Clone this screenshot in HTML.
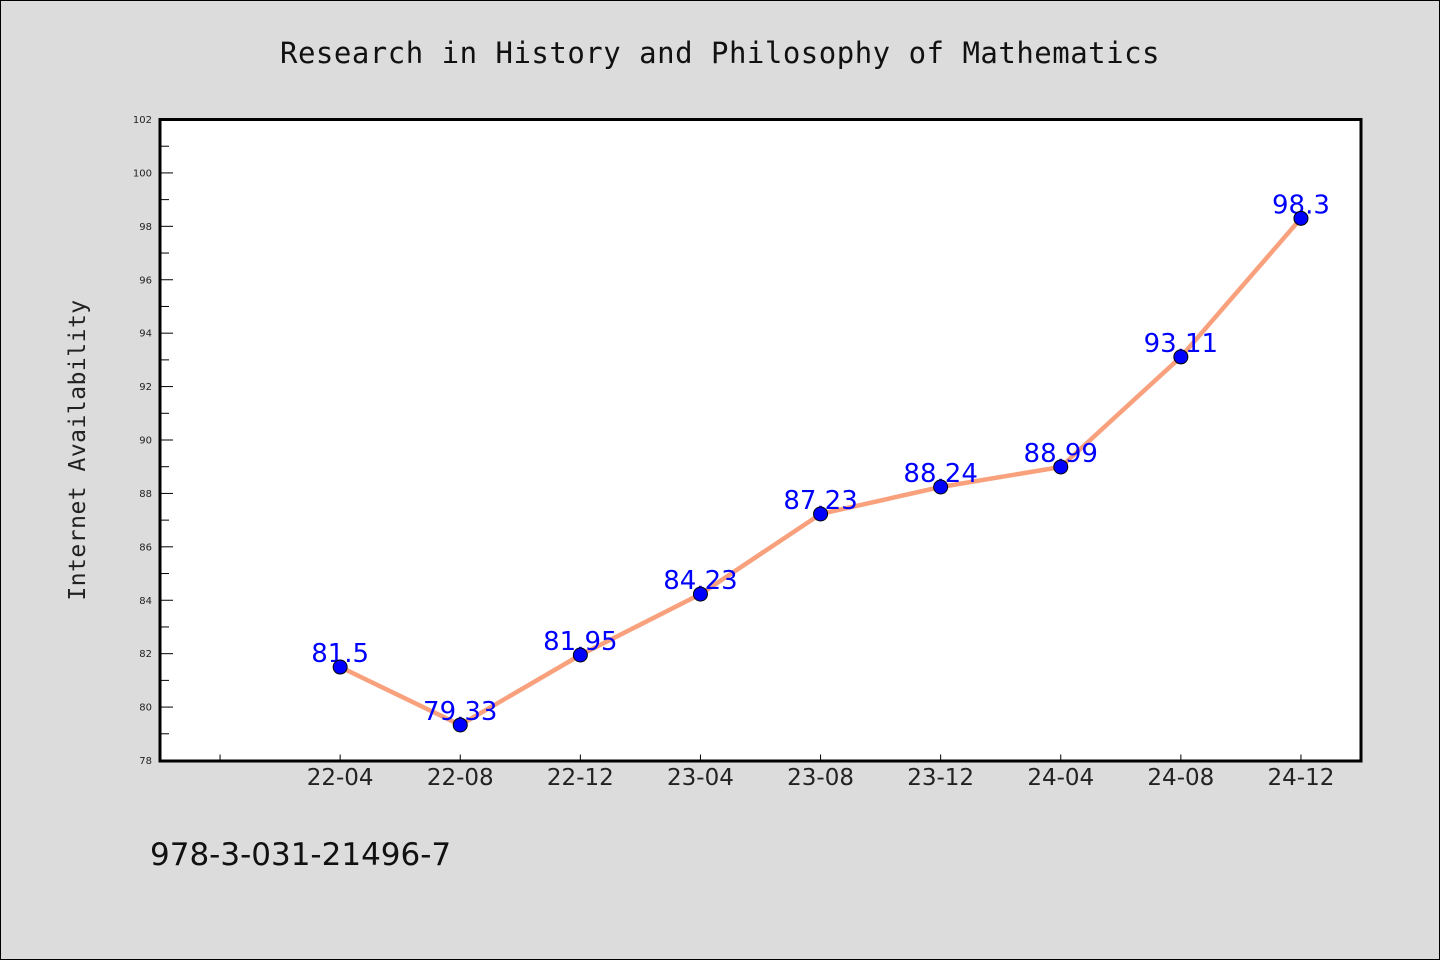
<!DOCTYPE html>
<html><head><meta charset="utf-8"><style>
html,body{margin:0;padding:0;background:#dcdcdc;}
svg{display:block;}
</style></head><body>
<svg width="1440" height="960" xmlns="http://www.w3.org/2000/svg">
<rect x="0.5" y="0.5" width="1439" height="959" fill="#dcdcdc" stroke="#000" stroke-width="1"/>
<text x="720" y="63" text-anchor="middle" font-family="DejaVu Sans Mono, Liberation Mono, monospace" font-size="29" letter-spacing="0.5" fill="#111">Research in History and Philosophy of Mathematics</text>
<text transform="translate(85,450) rotate(-90)" text-anchor="middle" font-family="DejaVu Sans Mono, Liberation Mono, monospace" font-size="23" letter-spacing="0.5" fill="#222">Internet Availability</text>
<text x="150" y="865" font-family="DejaVu Sans, Liberation Sans, sans-serif" font-size="31" fill="#111">978-3-031-21496-7</text>
<rect x="160" y="119.5" width="1201" height="641" fill="#fff"/>
<g id="axes"></g>
<g id="marks"></g>
<path d="M160,762 L160,119.5 L1361,119.5 L1361,761 L158.5,761" fill="none" stroke="#000" stroke-width="3"/>
</svg>
<script>
const categories = ["22-04","22-08","22-12","23-04","23-08","23-12","24-04","24-08","24-12"];
const values = [81.5,79.33,81.95,84.23,87.23,88.24,88.99,93.11,98.3];
const labels = ["81.5","79.33","81.95","84.23","87.23","88.24","88.99","93.11","98.3"];
const yTicks = [78,80,82,84,86,88,90,92,94,96,98,100,102];
const NS="http://www.w3.org/2000/svg";
const yMin=78,yMax=102,plotTop=119.5,plotBot=760.5,plotLeft=160,plotRight=1361;
const yScale=v=>plotBot-(v-yMin)/(yMax-yMin)*(plotBot-plotTop);
const slots=categories.length+1;
const xScale=i=>plotLeft+(plotRight-plotLeft)*(i+1.5)/slots;
function mk(t,a,p){const e=document.createElementNS(NS,t);for(const k in a)e.setAttribute(k,a[k]);(p||document.getElementById('axes')).appendChild(e);return e;}
const mg=document.getElementById('marks');
yTicks.forEach((v,i)=>{
  const t=mk('line',{x1:plotLeft,x2:plotLeft+13,y1:yScale(v),y2:yScale(v),stroke:'#000','stroke-width':1});
  
  
  if(i<yTicks.length-1){const m=mk('line',{x1:plotLeft,x2:plotLeft+9,y1:yScale(v+1),y2:yScale(v+1),stroke:'#000','stroke-width':1});
  
  }
  const l=mk('text',{x:plotLeft-8,y:yScale(v)+3.5,'text-anchor':'end','font-family':'DejaVu Sans, sans-serif','font-size':10,fill:'#222'});
  l.textContent=v;
  
  
});
const x0=plotLeft+(plotRight-plotLeft)*0.5/slots;
const t0=mk('line',{x1:x0,x2:x0,y1:plotBot,y2:plotBot-6,stroke:'#000'});


categories.forEach((c,i)=>{
  const t=mk('line',{x1:xScale(i),x2:xScale(i),y1:plotBot,y2:plotBot-6,stroke:'#000'});
  
  
  const l=mk('text',{x:xScale(i),y:785,'text-anchor':'middle','font-family':'DejaVu Sans, sans-serif','font-size':23,fill:'#222'});
  l.textContent=c;
  
  
});
const pl=mk('polyline',{points:values.map((v,i)=>xScale(i)+','+yScale(v)).join(' '),fill:'none',stroke:'#f9a07c','stroke-width':4.5,'stroke-linejoin':'round'},mg);


values.forEach((v,i)=>{
  const l=mk('text',{x:xScale(i),y:yScale(v)-5,'text-anchor':'middle','font-family':'DejaVu Sans, sans-serif','font-size':26,fill:'#0000ff'},mg);
  l.textContent=labels[i];
  
  
});
values.forEach((v,i)=>{
  const c=mk('circle',{cx:xScale(i),cy:yScale(v),r:7,fill:'#0000ff',stroke:'#000','stroke-width':1},mg);
  
  
});
</script>
</body></html>
